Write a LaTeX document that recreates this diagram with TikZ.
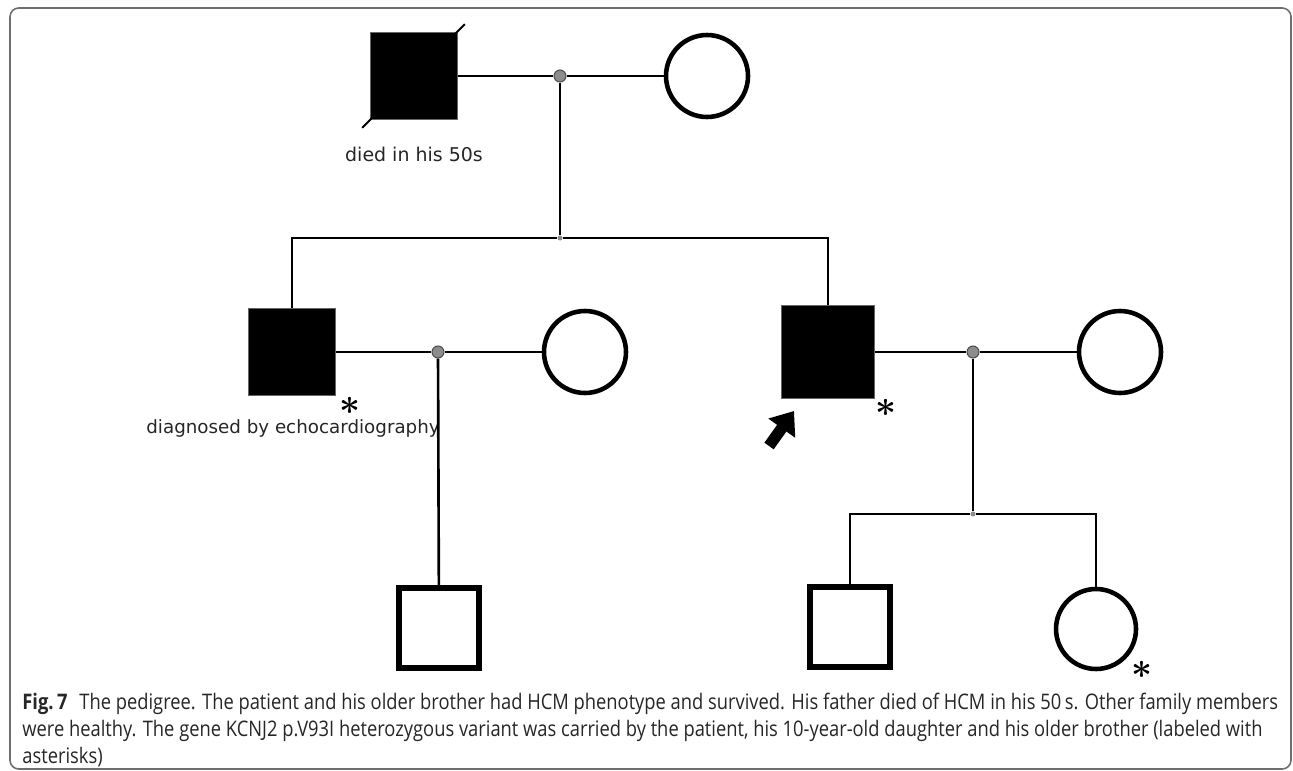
\documentclass[tikz,border=0pt]{standalone}
\usepackage{fontspec}
\usetikzlibrary{arrows.meta,positioning}
\newfontfamily\pedfont{DejaVu Sans}
\newfontfamily\capfont[FakeStretch=0.855]{Open Sans}
\definecolor{dotgray}{HTML}{8C8C8C}
\definecolor{framegray}{HTML}{6E6E6E}

\begin{document}
\begin{tikzpicture}[x=0.02cm,y=-0.02cm,
    male/.style={draw,line width=3pt,minimum size=1.6cm,inner sep=0pt},
    female/.style={circle,draw,line width=2.6pt,minimum size=1.64cm,inner sep=0pt},
    affected/.style={draw=black!60,fill=black,line width=0.4pt,minimum size=#1,inner sep=0pt},
    mate/.style={circle,draw=black!70,fill=dotgray,line width=0.6pt,minimum size=0.24cm,inner sep=0pt},
    junction/.style={circle,fill=dotgray,minimum size=0.1cm,inner sep=0pt},
    line/.style={line width=1.5pt},
    lab/.style={font=\pedfont\fontsize{#1}{13}\selectfont,text=black!85,inner sep=0pt,anchor=base},
    star/.style={font=\fontsize{22}{22}\selectfont\boldmath,inner sep=0pt},
    captext/.style={font=\capfont\fontsize{12.2}{14}\selectfont,text=black!85,inner sep=0pt,anchor=base west}]
    \useasboundingbox (0,0) rectangle (1293,770);
    \draw[framegray,line width=0.9pt,rounded corners=5pt] (10,8) rectangle (1291,769);

    % generation I
    \node[affected=1.74cm] (father) at (414,76) {};
    \node[female] (mother) at (707,76) {};
    \node[mate] (m1) at (560,76) {};
    \draw[line width=1.1pt] ([shift={(-8,8)}]father.south west) -- ([shift={(7,-8)}]father.north east);
    \node[lab=10.8] (died) at (414,162) {died in his 50s};

    % generation II
    \node[junction] (j1) at (560,238) {};
    \node[affected=1.74cm] (brother) at (292,352) {};
    \node[female] (wife1) at (585,352) {};
    \node[mate] (m2) at (438,352) {};
    \node[affected=1.86cm] (proband) at (828,352) {};
    \node[female] (wife2) at (1120,352) {};
    \node[mate] (m3) at (973,352) {};
    \node[star] (s1) at (350,406) {$\ast$};
    \node[star] (s2) at (886,408) {$\ast$};
    \node[lab=10.4] (echo) at (293,433) {diagnosed by echocardiography};

    % generation III
    \node[male] (nephew) at (439,628) {};
    \node[junction] (j2) at (973,514) {};
    \node[male] (son) at (850,627) {};
    \node[female,minimum size=1.6cm] (daughter) at (1096,629) {};
    \node[star] (s3) at (1142,670) {$\ast$};

    % lines of descent
    \draw[line] (father) -- (m1) -- (mother);
    \draw[line] (m1) -- (j1);
    \draw[line] (j1) -| (brother);
    \draw[line] (j1) -| (proband);
    \draw[line] (brother) -- (m2) -- (wife1);
    \draw[line] (proband) -- (m3) -- (wife2);
    \draw[line] (m2) -- (nephew);
    \draw[line] (m3) -- (j2);
    \draw[line] (j2) -| (son);
    \draw[line] (j2) -| (daughter);

    % proband arrow
    \coordinate (tail) at (769,446);
    \coordinate (tip) at (794,411);
    \draw[line width=6.5pt,-{Triangle[length=12pt,width=18pt]}] (tail) -- (tip);

    % caption
    \node[captext] (cap1) at (22,709) {\textbf{Fig.\,7}\hspace{0.55em}The pedigree. The patient and his older brother had HCM phenotype and survived. His father died of HCM in his 50\,s. Other family members};
    \node[captext] (cap2) at (22,736) {were healthy. The gene KCNJ2 p.V93I heterozygous variant was carried by the patient, his 10-year-old daughter and his older brother (labeled with};
    \node[captext] (cap3) at (22,763) {asterisks)};
\end{tikzpicture}
\end{document}
